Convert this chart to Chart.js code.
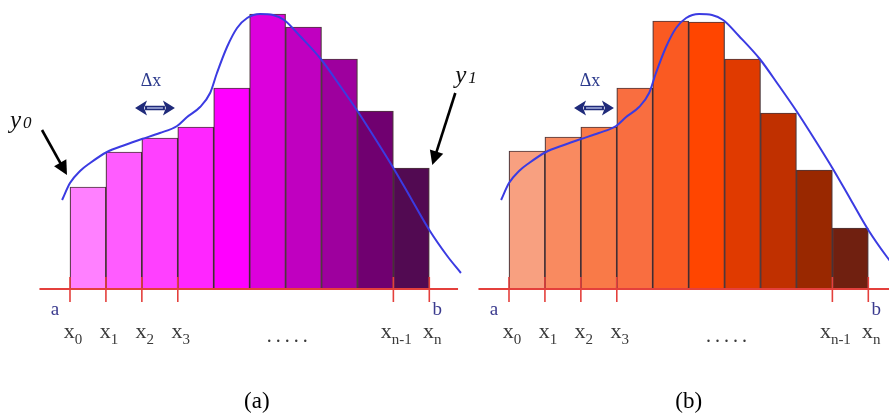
<!DOCTYPE html>
<html>
<head>
<meta charset="utf-8">
<style>
  html, body { margin: 0; padding: 0; background: #fff; }
  #wrap { width: 889px; height: 417px; position: relative; }
</style>
<script src="https://cdn.jsdelivr.net/npm/chart.js@4.4.6/dist/chart.umd.min.js"></script>
</head>
<body>
<div id="wrap"><canvas id="chart-riemann" width="889" height="417"></canvas></div>
<script>
// Riemann sums: (a) left endpoints, (b) right endpoints. One unit on x = Δx.

// bar heights (same y units for both panels)
const leftHeights  = [10.2, 13.7, 15.1, 16.2, 20.1, 27.5, 26.2, 23.0, 17.8, 12.1];
const rightHeights = [13.8, 15.2, 16.2, 20.1, 26.8, 26.7, 23.0, 17.6, 11.9, 6.1];

// f(x), sampled along the blue curve
const curveX = [-0.22, 0, 0.28, 0.56, 1.03, 1.53, 2.0, 2.5, 2.98, 3.26, 3.62, 3.9, 4.09, 4.37, 4.65,
                4.93, 5.29, 5.65, 5.96, 6.4, 6.98, 7.5, 8.0, 8.5, 9.0, 9.5, 10.0, 10.5, 10.88];
const curveY = [8.9, 10.6, 11.8, 12.6, 13.7, 14.4, 15.0, 15.6, 16.3, 17.2, 18.2, 19.6, 21.6, 24.2, 26.1,
                27.1, 27.5, 27.4, 26.9, 25.3, 23.0, 20.4, 17.8, 15.0, 12.1, 9.0, 5.9, 3.3, 1.6];

const leftColors  = ["#ff80ff", "#ff5cff", "#ff40ff", "#ff26ff", "#ff00ff", "#dc00dc", "#c000c0", "#9e009e", "#700070", "#520a52"];
const rightColors = ["#f8a080", "#f98a60", "#f97a48", "#f96e40", "#fa5a22", "#ff4500", "#e03a00", "#c03000", "#992800", "#702010"];

// axis marks
const tickValues = [0, 1, 2, 3, 9, 10];
const tickSubs   = ["0", "1", "2", "3", "n-1", "n"];
const axisExtent = [-0.85, 10.8];
const dotsAt     = 6.05;
const deltaArrow = [1.81, 2.92];
const deltaLevel = 18.1;

const panels = [
  { axis: "xa", caption: "(a)", captionAt: 5.2 },
  { axis: "xb", caption: "(b)", captionAt: 5.0 },
];

const SERIF = "'Liberation Serif', 'Times New Roman', serif";

function bars(heights) {
  return heights.map((h, i) => ({ x: i + 0.5, y: h }));
}
function curve() {
  return curveX.map((x, i) => ({ x, y: curveY[i] }));
}

function arrow(ctx, x1, y1, x2, y2) {
  const ang = Math.atan2(y2 - y1, x2 - x1);
  const len = 14, half = 7;
  ctx.save();
  ctx.strokeStyle = "#000"; ctx.fillStyle = "#000"; ctx.lineWidth = 2.6;
  ctx.beginPath();
  ctx.moveTo(x1, y1);
  ctx.lineTo(x2 - Math.cos(ang) * len * 0.8, y2 - Math.sin(ang) * len * 0.8);
  ctx.stroke();
  ctx.beginPath();
  ctx.moveTo(x2, y2);
  ctx.lineTo(x2 - Math.cos(ang) * len + Math.sin(ang) * half, y2 - Math.sin(ang) * len - Math.cos(ang) * half);
  ctx.lineTo(x2 - Math.cos(ang) * len - Math.sin(ang) * half, y2 - Math.sin(ang) * len + Math.cos(ang) * half);
  ctx.closePath();
  ctx.fill();
  ctx.restore();
}

function doubleArrow(ctx, x1, x2, y) {
  const head = 12, half = 7.5;
  ctx.save();
  ctx.fillStyle = "#1f2a7a";
  ctx.strokeStyle = "#1f2a7a";
  ctx.lineWidth = 4.5;
  ctx.beginPath(); ctx.moveTo(x1 + head - 2, y); ctx.lineTo(x2 - head + 2, y); ctx.stroke();
  ctx.strokeStyle = "#aab4e0"; ctx.lineWidth = 1.5;
  ctx.beginPath(); ctx.moveTo(x1 + head, y); ctx.lineTo(x2 - head, y); ctx.stroke();
  ctx.beginPath();
  ctx.moveTo(x1, y); ctx.lineTo(x1 + head, y - half); ctx.lineTo(x1 + head - 3, y); ctx.lineTo(x1 + head, y + half);
  ctx.closePath(); ctx.fill();
  ctx.beginPath();
  ctx.moveTo(x2, y); ctx.lineTo(x2 - head, y - half); ctx.lineTo(x2 - head + 3, y); ctx.lineTo(x2 - head, y + half);
  ctx.closePath(); ctx.fill();
  ctx.restore();
}

// x with subscript, centred on cx
function subLabel(ctx, cx, base, main, sub) {
  ctx.font = `22px ${SERIF}`;
  const w1 = ctx.measureText(main).width;
  ctx.font = `15px ${SERIF}`;
  const w2 = ctx.measureText(sub).width;
  const left = cx - (w1 + w2) / 2;
  ctx.font = `22px ${SERIF}`;
  ctx.fillText(main, left, base);
  ctx.font = `15px ${SERIF}`;
  ctx.fillText(sub, left + w1, base + 6);
}

const decorations = {
  id: "decorations",
  afterDatasetsDraw(chart) {
    const ctx = chart.ctx;
    const yS = chart.scales.y;
    const y0 = yS.getPixelForValue(0);
    ctx.save();
    ctx.textBaseline = "alphabetic";

    for (const p of panels) {
      const xS = chart.scales[p.axis];
      const px = v => xS.getPixelForValue(v);

      // red x axis
      ctx.strokeStyle = "#e4403c";
      ctx.lineWidth = 2;
      ctx.beginPath();
      ctx.moveTo(px(axisExtent[0]), y0);
      ctx.lineTo(px(axisExtent[1]), y0);
      ctx.stroke();

      // tick marks
      ctx.lineWidth = 1.6;
      for (const t of tickValues) {
        ctx.beginPath();
        ctx.moveTo(px(t), y0 - 12);
        ctx.lineTo(px(t), y0 + 13);
        ctx.stroke();
      }

      // a, b
      ctx.fillStyle = "#3a3a8e";
      ctx.font = `19px ${SERIF}`;
      ctx.textAlign = "center";
      ctx.fillText("a", px(0) - 15, y0 + 26);
      ctx.fillText("b", px(10) + 8, y0 + 26);

      // x0 ... xn
      ctx.fillStyle = "#3a3a3a";
      ctx.textAlign = "left";
      tickValues.forEach((t, i) => subLabel(ctx, px(t) + 3, y0 + 49, "x", tickSubs[i]));
      ctx.font = `20px ${SERIF}`;
      ctx.textAlign = "center";
      for (let k = -2; k <= 2; k++) ctx.fillText(".", px(dotsAt) + k * 9, y0 + 53);

      // Δx
      const ya = yS.getPixelForValue(deltaLevel);
      doubleArrow(ctx, px(deltaArrow[0]), px(deltaArrow[1]), ya);
      ctx.fillStyle = "#2c3a8c";
      ctx.font = `18px ${SERIF}`;
      ctx.textAlign = "center";
      ctx.fillText("Δx", (px(deltaArrow[0]) + px(deltaArrow[1])) / 2 - 4, ya - 22);

      // caption
      ctx.fillStyle = "#000";
      ctx.font = `23px ${SERIF}`;
      ctx.fillText(p.caption, px(p.captionAt), y0 + 119);
    }

    // y0 and y1 pointers, panel (a)
    const xa = chart.scales.xa;
    const p0x = xa.getPixelForValue(0), p0y = yS.getPixelForValue(curveY[1]);
    arrow(ctx, p0x - 28, p0y - 53, p0x - 3, p0y - 8);
    const p1x = xa.getPixelForValue(10), p1y = yS.getPixelForValue(leftHeights[9]);
    arrow(ctx, p1x + 26, p1y - 75, p1x + 3, p1y - 3);

    ctx.fillStyle = "#111";
    ctx.textAlign = "left";
    ctx.font = `italic 25px ${SERIF}`;
    ctx.fillText("y", p0x - 60, p0y - 55);
    ctx.fillText("y", p1x + 26, p1y - 85);
    ctx.font = `italic 17px ${SERIF}`;
    ctx.fillText("0", p0x - 47, p0y - 55);
    ctx.fillText("1", p1x + 39, p1y - 85);
    ctx.restore();
  },
};

const curveStyle = {
  type: "line",
  borderColor: "#3b3be2",
  borderWidth: 2,
  pointRadius: 0,
  cubicInterpolationMode: "monotone",
  fill: false,
};
const barStyle = {
  borderColor: "rgba(45,20,25,0.85)",
  borderWidth: 1.2,
  borderSkipped: false,
  categoryPercentage: 1,
  barPercentage: 1,
  grouped: false,
};

new Chart(document.getElementById("chart-riemann"), {
  type: "bar",
  data: {
    datasets: [
      { ...curveStyle, data: curve(), xAxisID: "xa" },
      { ...curveStyle, data: curve(), xAxisID: "xb" },
      { ...barStyle, data: bars(leftHeights), backgroundColor: leftColors, xAxisID: "xa" },
      { ...barStyle, data: bars(rightHeights), backgroundColor: rightColors, xAxisID: "xb" },
    ],
  },
  options: {
    responsive: false,
    animation: false,
    layout: { padding: 0 },
    scales: {
      // one unit = 35.93 px; panel (a) starts at 70 px, panel (b) at 509 px
      xa: { type: "linear", axis: "x", display: false, offset: false, min: -1.948, max: 22.794, ticks: { stepSize: 2 } },
      xb: { type: "linear", axis: "x", display: false, offset: false, min: -14.166, max: 10.576, ticks: { stepSize: 2 } },
      y:  { type: "linear", display: false, min: -12.8, max: 28.9 },
    },
    plugins: { legend: { display: false }, tooltip: { enabled: false } },
  },
  plugins: [decorations],
});
</script>
</body>
</html>
